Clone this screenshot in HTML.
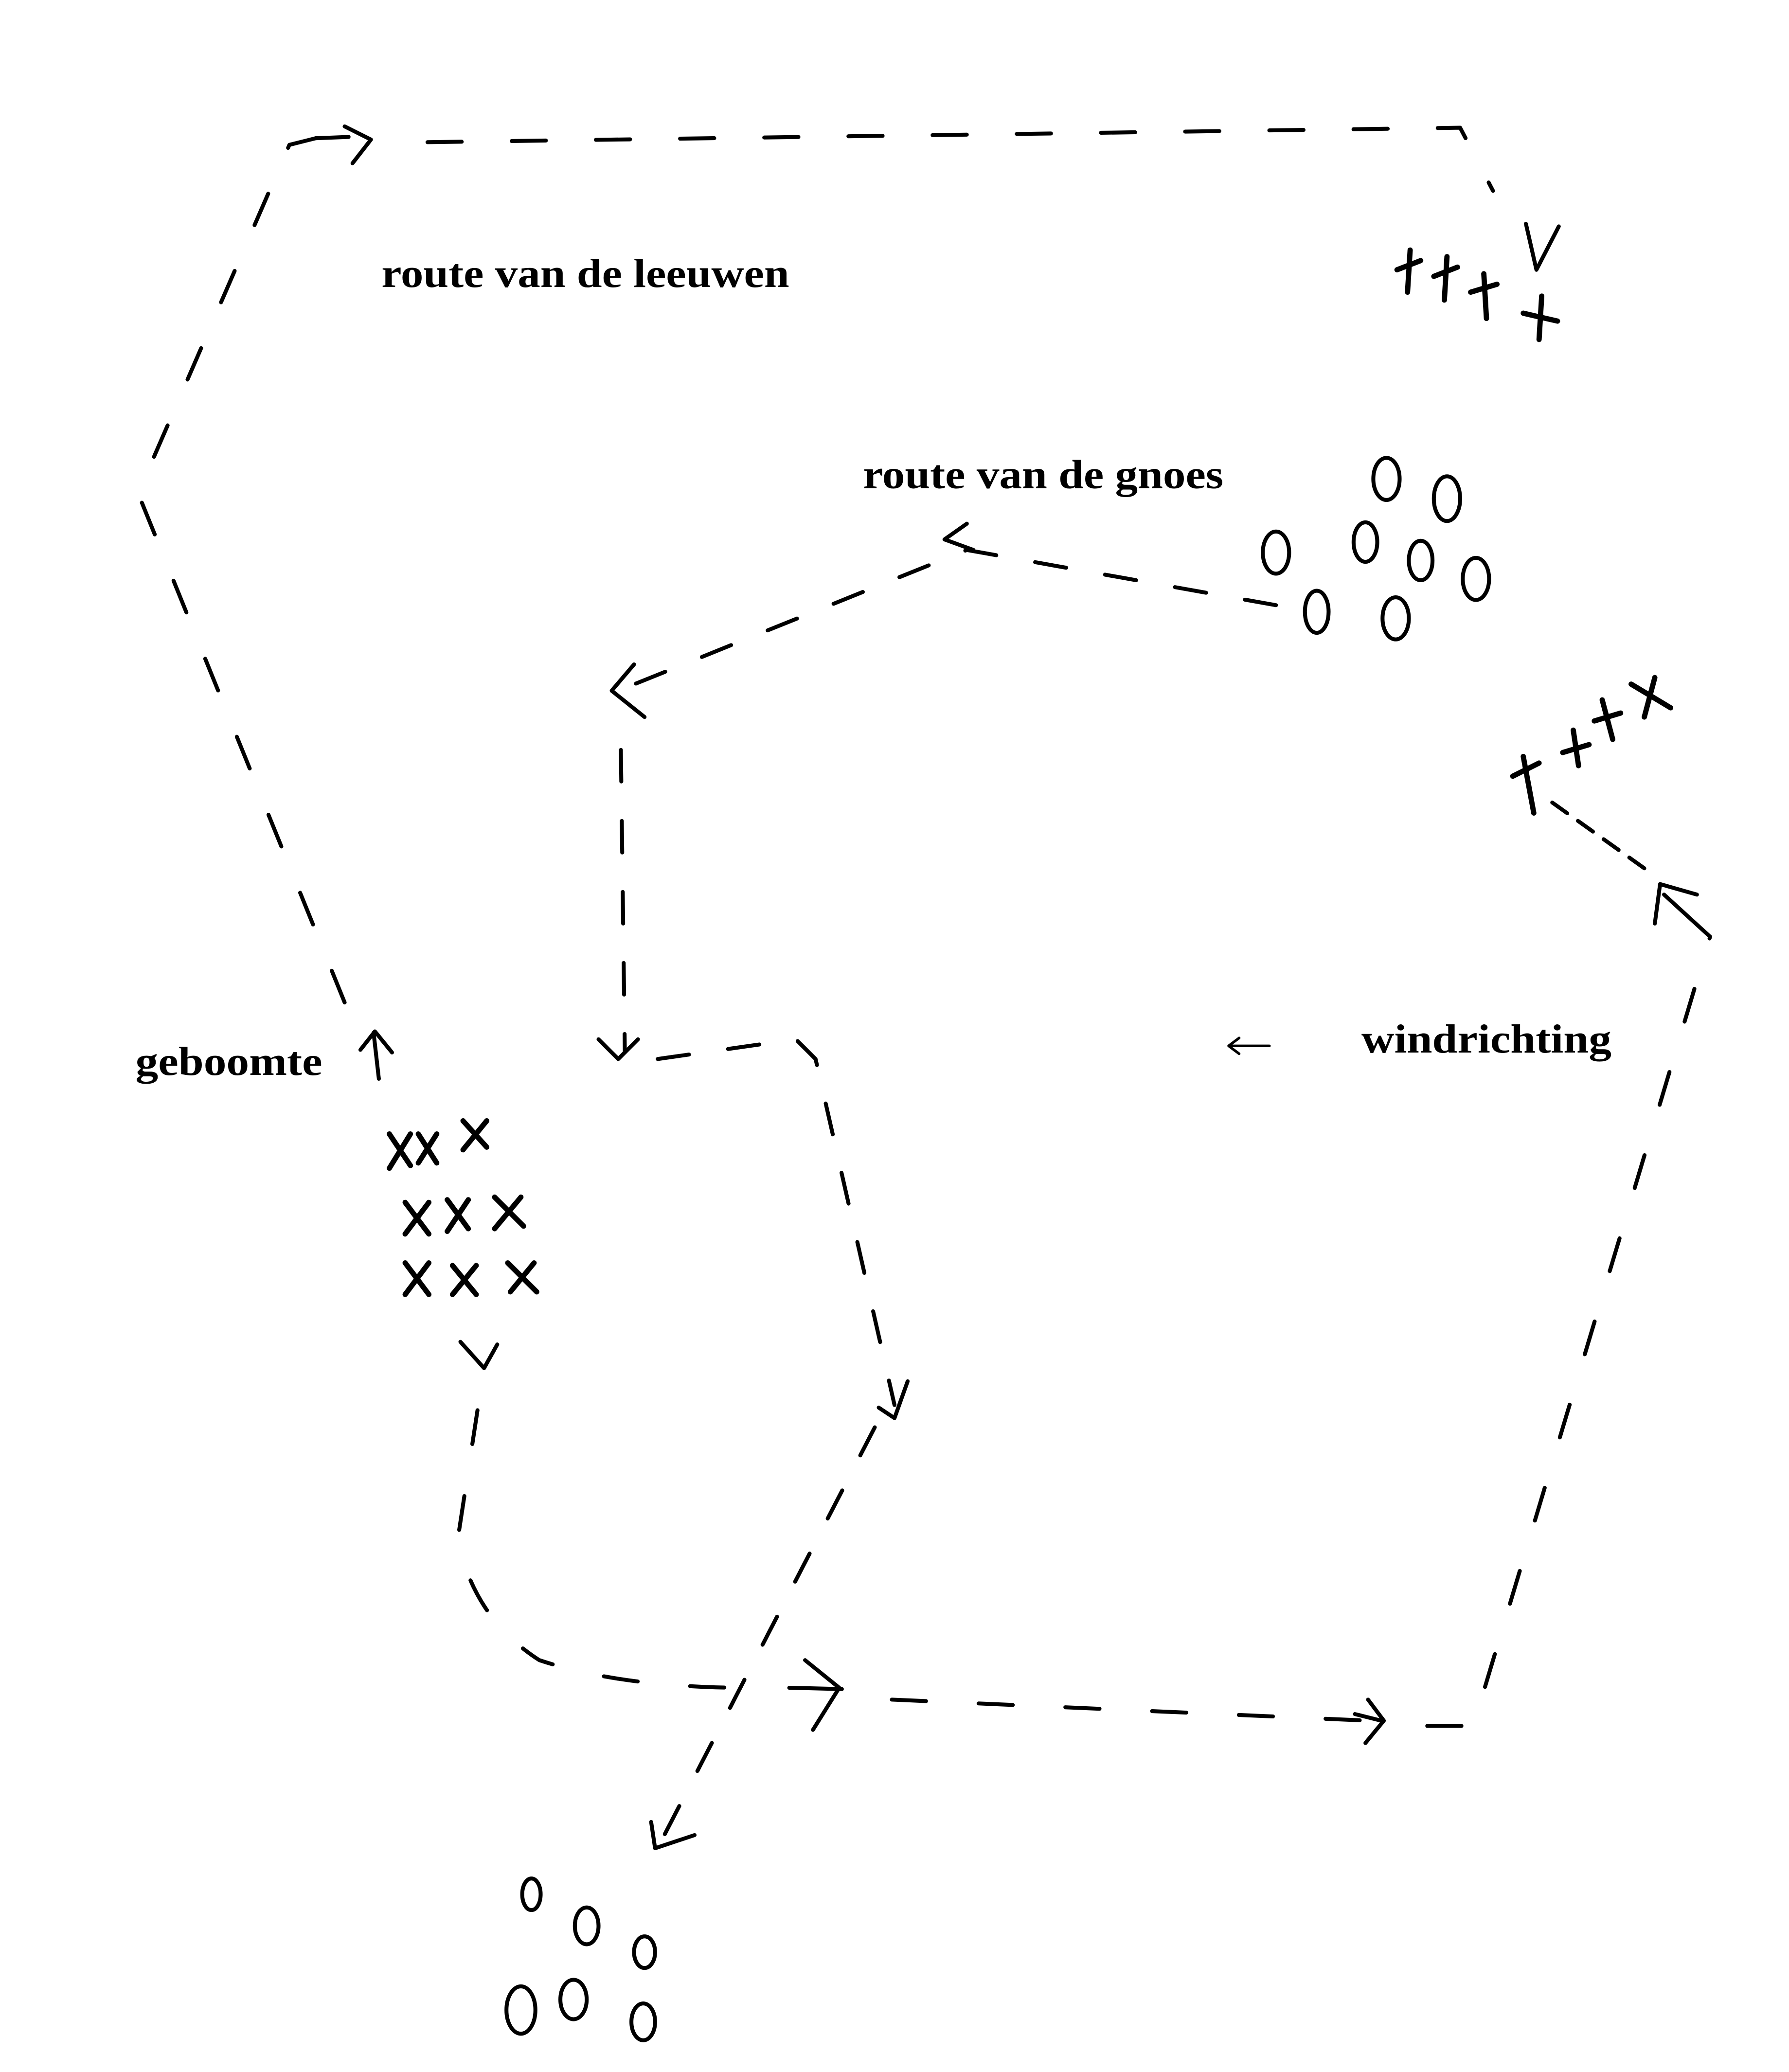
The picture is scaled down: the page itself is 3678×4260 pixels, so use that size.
<!DOCTYPE html>
<html><head><meta charset="utf-8"><style>
html,body{margin:0;padding:0;background:#fff}
svg{display:block}
text{font-family:"Liberation Serif",serif;font-weight:bold;fill:#000}
</style></head><body>
<svg width="3678" height="4260" viewBox="0 0 1360 1575" xmlns="http://www.w3.org/2000/svg">
<rect width="1360" height="1575" fill="#fff"/>
<g fill="none" stroke="#000" stroke-width="3" stroke-linecap="round" stroke-linejoin="round">
<g stroke-dasharray="26 38">
<path d="M262 762 L105 375 L118 345 L220 110 L240 105"/>
<path d="M325 108 L1110 97 L1135 145"/>
</g>
<path d="M240 105 L265 104 M262 96 L282 106 L268 124"/>
<path d="M288 820 L284 785 M274 798 L285 784 L298 800"/>
<path d="M1160 170 L1168 205 L1185 172"/>
<g stroke-dasharray="26 40">
<path d="M363 1072 L348 1170 Q360 1230 410 1262 Q470 1282 560 1283"/>
<path d="M678 1292 L1040 1308"/>
<path d="M1085 1312 L1120 1312 L1300 712"/>
</g>
<path d="M350 1020 L368 1040 L378 1022"/>
<path d="M600 1283 L640 1284 M612 1262 L638 1283 L618 1315"/>
<path d="M1030 1303 L1050 1308 M1040 1292 L1052 1308 L1038 1325"/>
<path d="M1300 712 L1265 680 M1258 702 L1262 672 L1290 680"/>
<path d="M1250 660 L1180 610" stroke-dasharray="14 10"/>
<g stroke-dasharray="24 30">
<path d="M970 460 L735 418 L470 525"/>
<path d="M472 570 L475 800"/>
<path d="M500 805 L605 790 L620 805 L680 1068"/>
<path d="M665 1085 L505 1395"/>
</g>
<path d="M735 398 L718 410 L740 418"/>
<path d="M482 505 L465 525 L490 545"/>
<path d="M455 790 L470 805 L485 790"/>
<path d="M668 1070 L680 1078 L690 1050"/>
<path d="M495 1385 L498 1405 L528 1395"/>
<path d="M935 795 L965 795 M942 789 L934 795 L942 801" stroke-width="2"/>
</g>
<g stroke="#000" stroke-width="4" stroke-linecap="round" fill="none">
<path d="M296 862 L312 886 M312 862 L296 888 M318 862 L332 884 M332 862 L318 884 M352 852 L370 872 M370 852 L352 874"/>
<path d="M308 914 L326 938 M326 914 L308 938 M340 912 L356 934 M356 912 L340 936 M376 910 L398 932 M396 910 L376 934"/>
<path d="M308 960 L326 984 M326 960 L308 984 M344 962 L362 984 M362 962 L344 984 M386 960 L408 982 M406 960 L388 982"/>
<path d="M1062 205 L1080 198 M1072 190 L1070 222 M1090 210 L1108 203 M1100 195 L1098 228 M1118 222 L1138 216 M1128 208 L1130 242 M1158 238 L1184 244 M1172 225 L1170 258"/>
<path d="M1150 590 L1170 580 M1158 575 L1166 618 M1188 572 L1208 566 M1196 555 L1200 582 M1212 548 L1232 542 M1218 532 L1226 562 M1240 520 L1270 538 M1258 515 L1250 545"/>
</g>
<g fill="none" stroke="#000" stroke-width="3">
<ellipse cx="1054" cy="364" rx="10" ry="16"/>
<ellipse cx="1100" cy="379" rx="10" ry="17"/>
<ellipse cx="970" cy="420" rx="10" ry="16"/>
<ellipse cx="1038" cy="412" rx="9" ry="15"/>
<ellipse cx="1080" cy="426" rx="9" ry="15"/>
<ellipse cx="1122" cy="440" rx="10" ry="16"/>
<ellipse cx="1001" cy="465" rx="9" ry="16"/>
<ellipse cx="1061" cy="470" rx="10" ry="16"/>
<ellipse cx="404" cy="1440" rx="7" ry="12"/>
<ellipse cx="446" cy="1464" rx="9" ry="14"/>
<ellipse cx="490" cy="1484" rx="8" ry="12"/>
<ellipse cx="396" cy="1528" rx="11" ry="18"/>
<ellipse cx="436" cy="1520" rx="10" ry="15"/>
<ellipse cx="489" cy="1537" rx="9" ry="14"/>
</g>
<text x="290" y="218" font-size="31" textLength="310" lengthAdjust="spacingAndGlyphs">route van de leeuwen</text>
<text x="656" y="371" font-size="31" textLength="274" lengthAdjust="spacingAndGlyphs">route van de gnoes</text>
<text x="103" y="817" font-size="31" textLength="142" lengthAdjust="spacingAndGlyphs">geboomte</text>
<text x="1035" y="800" font-size="31" textLength="190" lengthAdjust="spacingAndGlyphs">windrichting</text>
</svg>
</body></html>
